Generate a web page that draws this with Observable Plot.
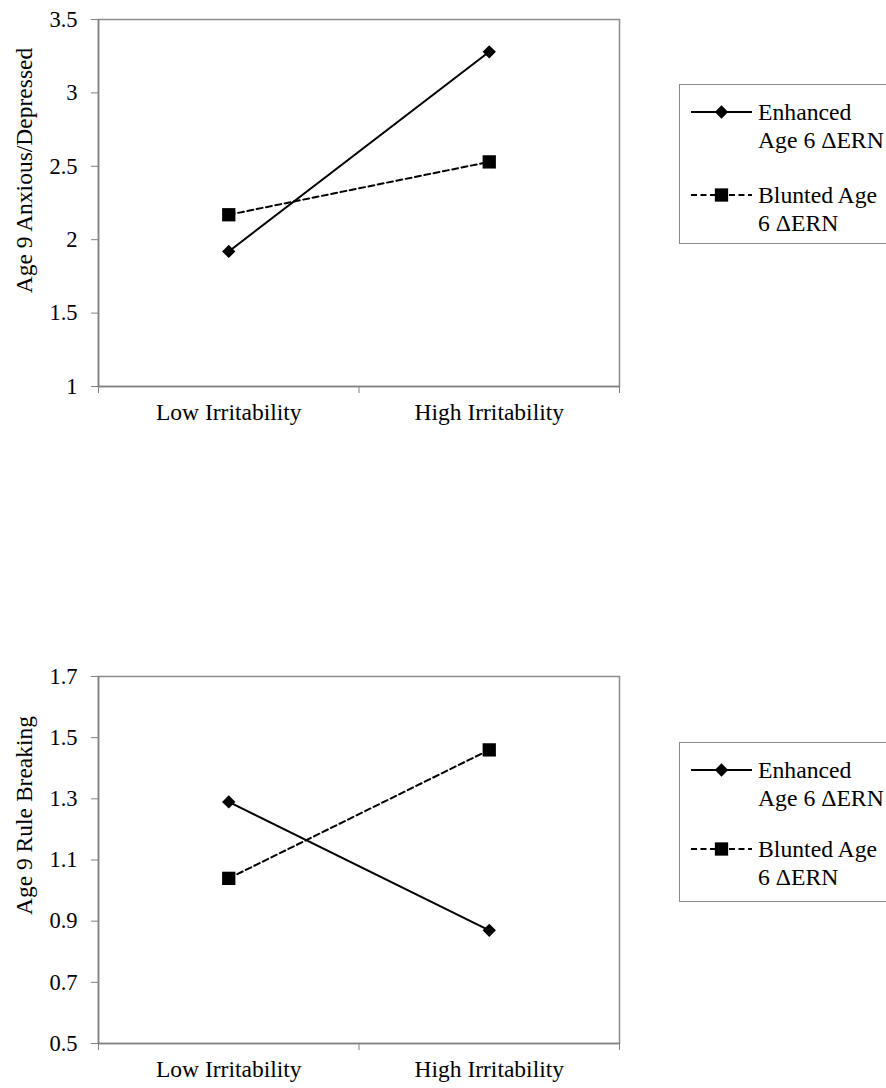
<!DOCTYPE html>
<html>
<head>
<meta charset="utf-8">
<script src="https://cdn.jsdelivr.net/npm/d3@7"></script>
<script src="https://cdn.jsdelivr.net/npm/@observablehq/plot@0.6"></script>
<style>
  body { margin: 0; background: #fff; font-family: "Liberation Serif", "Times New Roman", serif; }
  #root { position: relative; width: 886px; height: 1088px; overflow: hidden; background: #fff; }
  .panel { position: absolute; left: 0; }
  .legend { position: absolute; left: 679px; width: 240px; border: 1.5px solid #8a8a8a; background: #fff;
            font-size: 23.7px; line-height: 28px; color: #000; padding: 13px 0 6px 11px; box-sizing: border-box; }
  .item { display: flex; align-items: flex-start; }
  .item svg { flex: none; }
  .item .lbl { margin-left: 0px; white-space: nowrap; }
</style>
</head>
<body>
<div id="root"></div>
<script>
// ---- data ----
const categories = ["Low Irritability", "High Irritability"];
const seriesNames = ["Enhanced", "Blunted"];
const seriesLabels = [["Enhanced", "Age 6 ΔERN"], ["Blunted Age", "6 ΔERN"]];
const enhancedAnxDep = [1.92, 3.28];
const bluntedAnxDep = [2.17, 2.53];
const enhancedRule = [1.29, 0.87];
const bluntedRule = [1.04, 1.46];
const anxDepTicks = [1, 1.5, 2, 2.5, 3, 3.5];
const ruleTicks = [0.5, 0.7, 0.9, 1.1, 1.3, 1.5, 1.7];
const yTitles = ["Age 9 Anxious/Depressed", "Age 9 Rule Breaking"];

const root = document.getElementById("root");
const gray = "#808080";
const dash = "6,3.5";

function makeChart(yTitle, ticks, enh, blu, titleDy) {
  const rows = [];
  categories.forEach((c, i) => {
    rows.push({series: "Enhanced", cat: c, v: enh[i]});
    rows.push({series: "Blunted", cat: c, v: blu[i]});
  });
  const xPos = d => categories.indexOf(d.cat) + 0.5;
  const enhRows = rows.filter(d => d.series === "Enhanced");
  const bluRows = rows.filter(d => d.series === "Blunted");
  return Plot.plot({
    width: 640, height: 430,
    marginLeft: 98, marginRight: 21, marginTop: 19, marginBottom: 44,
    style: {fontFamily: "Liberation Serif, Times New Roman, serif", fontSize: "22px", color: "#000", background: "transparent", overflow: "visible"},
    x: {domain: [0, categories.length], axis: null},
    y: {domain: [ticks[0], ticks[ticks.length - 1]], axis: null},
    marks: [
      Plot.frame({stroke: "#8c8c8c", strokeWidth: 1.5}),
      Plot.ruleX([0], {stroke: gray, strokeWidth: 1.5}),
      Plot.ruleY([ticks[0]], {stroke: gray, strokeWidth: 1.5}),
      Plot.axisY({ticks, tickSize: 7, tickPadding: 14, tickFormat: d => String(d), stroke: gray, label: null, fontSize: 22.5}),
      Plot.axisX({ticks: d3.range(categories.length + 1), tickSize: 7, tickFormat: () => "", stroke: gray, label: null}),
      Plot.axisX({ticks: categories.map((c, i) => i + 0.5), tickSize: 0, tickPadding: 17,
                  tickFormat: v => categories[Math.floor(v)], label: null, fontSize: 23.5}),
      Plot.line(enhRows, {x: xPos, y: "v", stroke: "#000", strokeWidth: 2}),
      Plot.line(bluRows, {x: xPos, y: "v", stroke: "#000", strokeWidth: 2, strokeDasharray: dash}),
      Plot.dot(enhRows, {x: xPos, y: "v", symbol: "diamond2", r: 6, fill: "#000", stroke: "none"}),
      Plot.dot(bluRows, {x: xPos, y: "v", symbol: "square", r: 7.5, fill: "#000", stroke: "none"}),
      Plot.text([yTitle], {text: d => d, frameAnchor: "top-left", rotate: -90, textAnchor: "middle",
                           lineAnchor: "middle", dx: -74, dy: titleDy, fill: "#000", fontSize: 23.5})
    ]
  });
}

function makeLegend(top, gap, height) {
  const box = document.createElement("div");
  box.className = "legend";
  box.style.top = top + "px";
  box.style.height = height + "px";
  seriesNames.forEach((name, k) => {
    const item = document.createElement("div");
    item.className = "item";
    if (k > 0) item.style.marginTop = gap + "px";
    const ns = "http://www.w3.org/2000/svg";
    const svg = document.createElementNS(ns, "svg");
    svg.setAttribute("width", 67); svg.setAttribute("height", 28);
    const ln = document.createElementNS(ns, "line");
    ln.setAttribute("x1", 0); ln.setAttribute("x2", 61); ln.setAttribute("y1", 14); ln.setAttribute("y2", 14);
    ln.setAttribute("stroke", "#000"); ln.setAttribute("stroke-width", 2);
    if (name === "Blunted") ln.setAttribute("stroke-dasharray", dash);
    svg.appendChild(ln);
    const sym = document.createElementNS(ns, "path");
    const sy = name === "Enhanced" ? d3.symbol(d3.symbolDiamond2, 6 * 6 * Math.PI) : d3.symbol(d3.symbolSquare, 7.5 * 7.5 * Math.PI);
    sym.setAttribute("d", sy());
    sym.setAttribute("transform", "translate(30.5,14)");
    sym.setAttribute("fill", "#000");
    svg.appendChild(sym);
    item.appendChild(svg);
    const lbl = document.createElement("div");
    lbl.className = "lbl";
    lbl.innerHTML = seriesLabels[k].join("<br>");
    item.appendChild(lbl);
    box.appendChild(item);
  });
  return box;
}

const p1 = document.createElement("div");
p1.className = "panel"; p1.style.top = "0px";
p1.appendChild(makeChart(yTitles[0], anxDepTicks, enhancedAnxDep, bluntedAnxDep, 151));
root.appendChild(p1);
root.appendChild(makeLegend(84, 27, 160));

const p2 = document.createElement("div");
p2.className = "panel"; p2.style.top = "657px";
p2.appendChild(makeChart(yTitles[1], ruleTicks, enhancedRule, bluntedRule, 139));
root.appendChild(p2);
root.appendChild(makeLegend(742, 23, 160));
</script>
</body>
</html>
